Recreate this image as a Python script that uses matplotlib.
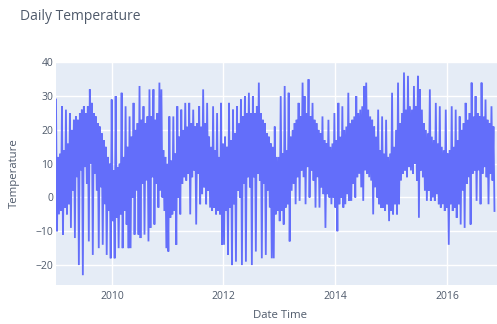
import numpy as np
import pandas as pd
import matplotlib.pyplot as plt
import matplotlib.dates as mdates

# Temperature trace, stored as the upper and lower swing of each ~13 day step.
# One row per year (2009 .. 2016).
temp_high = [
    29, 12, 13, 27, 14, 26, 16, 25, 20, 23, 24, 23, 25, 26, 27, 25, 27, 32, 28, 25, 24, 22, 21, 19, 17, 15, 12, 10,
    29, 8, 30, 9, 10, 31, 12, 27, 15, 24, 18, 28, 20, 22, 33, 23, 27, 22, 24, 32, 24, 32, 23, 25, 34, 32, 14, 12,
    10, 24, 11, 24, 13, 27, 18, 26, 20, 28, 21, 28, 22, 26, 21, 22, 27, 21, 32, 22, 28, 18, 15, 27, 14, 25, 12, 28,
    16, 18, 15, 28, 17, 26, 19, 27, 22, 29, 24, 30, 25, 31, 25, 30, 25, 27, 34, 25, 23, 22, 19, 18, 16, 15, 21, 12,
    12, 30, 13, 33, 14, 31, 18, 20, 22, 23, 28, 24, 34, 30, 25, 35, 24, 28, 23, 22, 20, 19, 24, 17, 16, 23, 15, 16,
    25, 17, 28, 18, 27, 20, 21, 31, 22, 23, 24, 30, 25, 26, 27, 33, 34, 26, 24, 23, 21, 18, 26, 14, 24, 13, 23, 12,
    13, 31, 15, 20, 34, 22, 25, 37, 26, 36, 27, 26, 33, 27, 36, 32, 26, 22, 20, 19, 32, 18, 17, 28, 16, 27, 15, 14,
    26, 13, 14, 27, 15, 26, 17, 24, 20, 22, 28, 23, 25, 34, 24, 30, 25, 24, 34, 24, 29, 23, 22, 27, 21,
]
temp_low = [
    -10, -5, -4, -11, -3, -5, -2, -9, 2, -12, 6, -20, 8, -23, 9, 4, -13, 10, -17, 7, 2, -15, 3, -14, -2, -17, -4, -18,
    -7, -18, -6, -15, -5, -15, -4, -8, -15, -15, 0, -11, 2, -11, -12, 4, -11, 5, -13, -9, 6, -8, 4, -3, 2, 0, -4, -15,
    -16, -6, -5, -4, -14, 0, -5, 4, 6, 5, 7, -5, 6, 8, -8, 7, -2, 1, 3, -2, 2, -3, -4, -3, -5, -4, -5, -14,
    -14, -4, -17, -3, -20, -2, -19, 2, 0, -20, 4, -19, 6, 3, -20, 6, -16, 7, 5, -18, 4, -17, 2, -3, -18, -18, -5, -4,
    -7, -4, -8, -3, -2, -13, 2, 4, -2, 6, -1, 8, 6, -2, 9, 0, 8, 5, -3, 6, -3, 3, 1, -9, 1, 0, -2, 0,
    -3, -10, -2, 0, -3, -2, 1, -1, -1, 4, 0, 6, 7, 3, -1, 8, 7, 6, 5, -5, 3, 0, -2, -3, -3, -4, -2, -7,
    -4, -5, -2, -5, -2, 5, 7, 8, 6, 9, 8, 7, 10, 5, -6, 8, 6, 2, -1, 2, -1, 0, -1, 1, -2, -3, -2, -4,
    -3, -14, -2, -4, -3, -6, -2, -8, 2, -9, 4, 6, -8, 7, 8, -1, 8, -2, 7, 9, 6, -2, 7, 5, -4,
]
start_date = '2009-01-01'
x_end = '2016-11-23'
year_ticks = ['2010', '2012', '2014', '2016']
y_ticks = [-20, -10, 0, 10, 20, 30, 40]

temps = np.column_stack([temp_high, temp_low]).ravel()
dates = pd.date_range(start_date, periods=len(temps), freq='156h')

plt.rcParams['font.family'] = ['Open Sans', 'DejaVu Sans']
text_color = '#4f5a6b'

fig = plt.figure(figsize=(4.97, 3.24), dpi=100)
ax = fig.add_axes([56 / 497, 1 - 285 / 324, 1 - 56 / 497, (285 - 62) / 324])
ax.set_facecolor('#E5ECF6')

ax.plot(dates, temps, color='#636EFA', linewidth=1.3, solid_joinstyle='miter')

ax.set_xlim(pd.Timestamp(start_date), pd.Timestamp(x_end))
ax.set_ylim(-25.9, 40.1)
ax.set_xticks([pd.Timestamp(y) for y in year_ticks])
ax.xaxis.set_major_formatter(mdates.DateFormatter('%Y'))
ax.set_yticks(y_ticks)

ax.grid(True, color='white', linewidth=1)
ax.set_axisbelow(True)
for s in ax.spines.values():
    s.set_visible(False)
ax.tick_params(length=0, labelsize=7.5, colors=text_color)
ax.tick_params(axis='x', pad=4)
ax.tick_params(axis='y', pad=2)

fig.text(20 / 497, 1 - 16 / 324, 'Daily Temperature', fontsize=10,
         color=text_color, va='center', ha='left')
fig.text(14 / 497, 1 - 173 / 324, 'Temperature', fontsize=8.2,
         color=text_color, va='center', ha='center', rotation=90)
fig.text(280 / 497, 1 - 315 / 324, 'Date Time', fontsize=8.2,
         color=text_color, va='center', ha='center')

fig.savefig('out.png', dpi=100)
